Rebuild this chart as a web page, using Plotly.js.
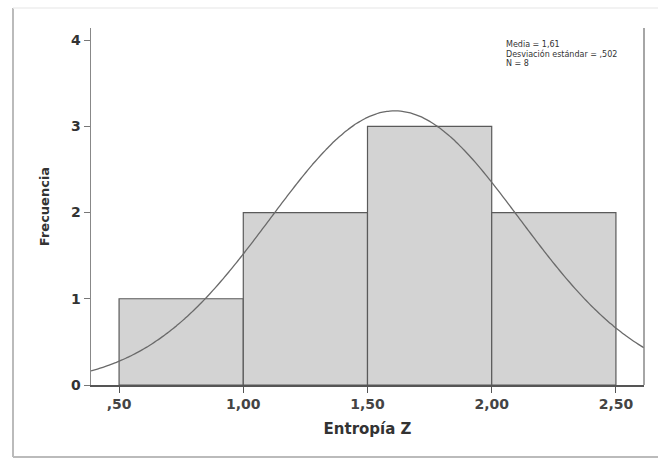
<!DOCTYPE html>
<html><head><meta charset="utf-8">
<script src="https://cdn.plot.ly/plotly-3.0.1.min.js"></script>
<style>html,body{margin:0;padding:0;background:#fff;}#chart{width:658px;height:461px;}</style>
</head><body><div id="chart"></div>
<script>
// Histogram bins (Entropía Z) and frequencies
const binCenters = [0.75, 1.25, 1.75, 2.25];
const frequencies = [1, 2, 3, 2];
const binWidth = 0.5;
// Summary statistics shown in the chart
const mean = 1.61;
const stdDev = 0.502;
const nObs = 8;
const statLines = ['Media = 1,61', 'Desviación estándar = ,502', 'N = 8'];
const xTickVals = [0.5, 1.0, 1.5, 2.0, 2.5];
const xTickText = [",50", "1,00", "1,50", "2,00", "2,50"];
const yTickVals = [0, 1, 2, 3, 4];

// Fitted normal curve scaled to the histogram (N * bin width * density)
const xr = [0.387, 2.613];
const cx = [], cy = [];
for (let i = 0; i <= 200; i++) {
  const x = xr[0] + (xr[1] - xr[0]) * i / 200;
  const z = (x - mean) / stdDev;
  cx.push(x);
  cy.push(nObs * binWidth * Math.exp(-0.5 * z * z) / (stdDev * Math.sqrt(2 * Math.PI)));
}

const traces = [
  {type: 'bar', x: binCenters, y: frequencies, width: binWidth,
   marker: {color: '#d3d3d3', line: {color: '#5a5a5a', width: 1.2}},
   hoverinfo: 'skip', showlegend: false},
  {type: 'scatter', mode: 'lines', x: cx, y: cy,
   line: {color: '#6a6a6a', width: 1.3, shape: 'spline'},
   hoverinfo: 'skip', showlegend: false}
];

const W = 553, H = 357;
const FONT = 'DejaVu Sans, Liberation Sans, Arial, sans-serif';
const statY = [44.5, 54, 63.5];
const layout = {
  width: 658, height: 461,
  margin: {l: 91, r: 14, t: 28, b: 76},
  paper_bgcolor: '#fff', plot_bgcolor: '#fff',
  font: {family: FONT, color: '#333'},
  bargap: 0,
  xaxis: {range: xr, tickvals: xTickVals, ticktext: xTickText,
    showgrid: false, zeroline: false, showline: true, linecolor: '#555', linewidth: 1.5,
    ticks: 'outside', ticklen: 6, tickcolor: '#555', tickwidth: 1,
    tickfont: {size: 14, color: '#444', family: FONT, weight: 'bold'},
    title: {text: 'Entropía Z', standoff: 12,
      font: {size: 15, color: '#333', family: FONT, weight: 'bold'}}},
  yaxis: {range: [0, 4.14], tickvals: yTickVals,
    showgrid: false, zeroline: false, showline: true, linecolor: '#888', linewidth: 1.5,
    ticks: 'outside', ticklen: 6, tickcolor: '#777', tickwidth: 1,
    tickfont: {size: 14, color: '#333', family: FONT, weight: 'bold'},
    title: {text: 'Frecuencia', standoff: 18,
      font: {size: 13, color: '#333', family: FONT, weight: 'bold'}}},
  shapes: [
    {type: 'line', xref: 'paper', yref: 'paper', x0: 1, x1: 1, y0: 0, y1: 1,
     line: {color: '#888', width: 1.5}},
    {type: 'line', xref: 'paper', yref: 'paper', x0: -78/W, x1: -78/W, y0: -72/H, y1: 1 + 20/H,
     line: {color: '#bbb', width: 2}},
    {type: 'line', xref: 'paper', yref: 'paper', x0: -78/W, x1: 1 + 14/W, y0: 1 + 20/H, y1: 1 + 20/H,
     line: {color: '#eee', width: 1.5}},
    {type: 'line', xref: 'paper', yref: 'paper', x0: -78/W, x1: 1 + 14/W, y0: -72/H, y1: -72/H,
     line: {color: '#bbb', width: 2}}
  ],
  annotations: statLines.map((t, i) => ({
    xref: 'paper', yref: 'paper', x: (504 - 91) / W, y: 1 - (statY[i] - 28) / H,
    xanchor: 'left', yanchor: 'middle', align: 'left', showarrow: false,
    text: t, font: {size: 8, color: '#333', family: FONT}
  }))
};
Plotly.newPlot('chart', traces, layout, {displayModeBar: false, staticPlot: true});
</script></body></html>
